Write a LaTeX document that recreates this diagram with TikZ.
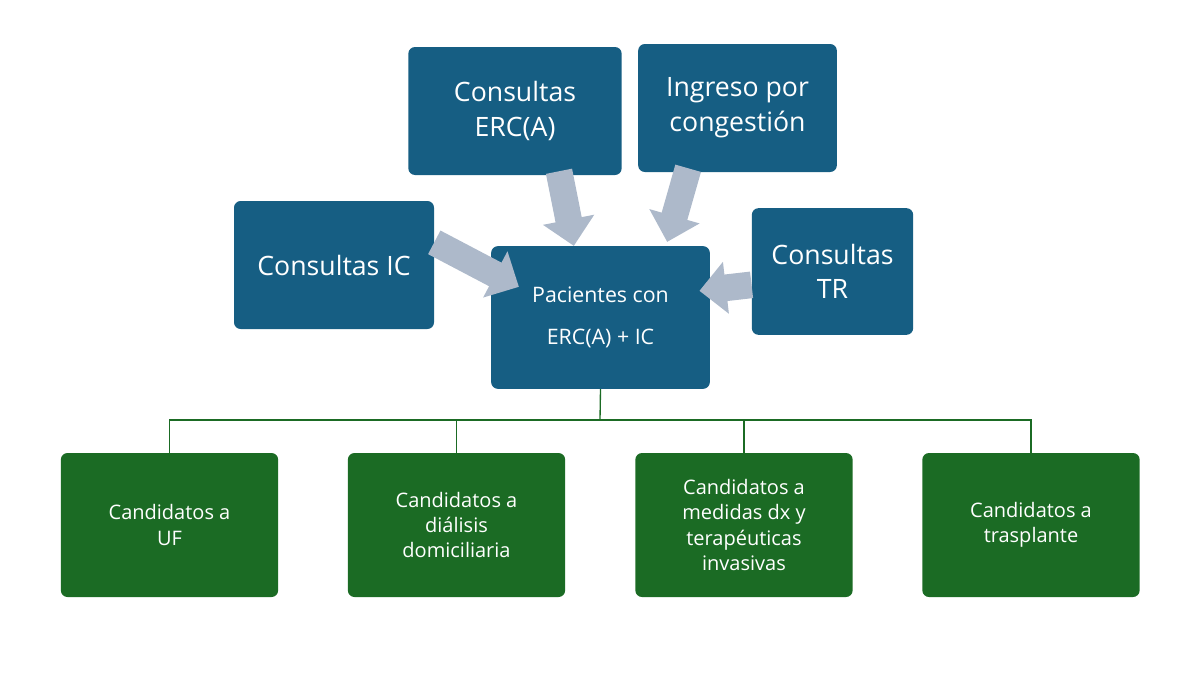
\documentclass[tikz,border=0pt]{standalone}
\usepackage{fontspec}
\setmainfont{Open Sans}
\usetikzlibrary{arrows.meta}
\definecolor{boxblue}{RGB}{22,94,131}
\definecolor{boxgreen}{RGB}{27,107,36}
\definecolor{arrowgrey}{RGB}{173,185,202}
\tikzset{
  bluebox/.style={draw=none,fill=boxblue,rounded corners=5pt,text=white,align=center,inner sep=0pt},
  greenbox/.style={draw=none,fill=boxgreen,rounded corners=5pt,text=white,align=center,inner sep=0pt,
    minimum width=163pt,minimum height=108pt,font=\fontsize{15}{19}\selectfont},
  fat/.style={arrowgrey,line width=20pt,-{Triangle[width=38pt,length=20pt]}},
  tree/.style={boxgreen,line width=1pt}
}
\begin{document}
\begin{tikzpicture}[x=0.75pt,y=0.75pt,yscale=-1,xscale=1]
    \useasboundingbox (0,0) rectangle (1200,675);

    % Upper boxes
    \node[bluebox,minimum width=160pt,minimum height=96pt,font=\fontsize{20}{26}\selectfont] (erc) at (515,111) {Consultas\\ERC(A)};
    \node[bluebox,minimum width=149pt,minimum height=96pt,font=\fontsize{20}{26}\selectfont] (ing) at (737.5,108) {Ingreso por\\congestión};
    \node[bluebox,minimum width=150pt,minimum height=96pt,font=\fontsize{20}{26}\selectfont] (ic) at (334,265) {Consultas IC};
    \node[bluebox,minimum width=121pt,minimum height=95pt,font=\fontsize{20}{26}\selectfont] (tr) at (832.5,271.5) {Consultas\\TR};
    % Center box
    \node[bluebox,minimum width=164pt,minimum height=107pt,font=\fontsize{16}{31}\selectfont] (pc) at (600.5,317.5) {Pacientes con\\ERC(A) + IC};

    % Lower boxes
    \node[greenbox] (uf) at (169.5,525) {Candidatos a\\UF};
    \node[greenbox] (dd) at (456.5,525) {Candidatos a\\diálisis\\domiciliaria};
    \node[greenbox] (md) at (744,525) {Candidatos a\\medidas dx y\\terapéuticas\\invasivas};
    \node[greenbox] (tp) at (1031,525) {Candidatos a\\trasplante};

    % Grey arrows
    \draw[fat] ([yshift=-17]ic.east) -- ([xshift=21,yshift=-23]pc.west);
    \draw[fat] ([xshift=33,yshift=-3]erc.south) -- ([xshift=-20,yshift=0]pc.north);
    \draw[fat] ([xshift=-37,yshift=-3]ing.south) -- ([xshift=50,yshift=-3]pc.north);
    \draw[fat] ([yshift=10]tr.west) -- ([xshift=-8,yshift=-20]pc.east);

    % Tree
    \coordinate (j) at (600,420);
    \draw[tree] (pc.south) -- (j);
    \draw[tree] (uf.north) |- (j) -| (tp.north);
    \draw[tree] (dd.north) -- (dd.north |- j);
    \draw[tree] (md.north) -- (md.north |- j);
\end{tikzpicture}
\end{document}
